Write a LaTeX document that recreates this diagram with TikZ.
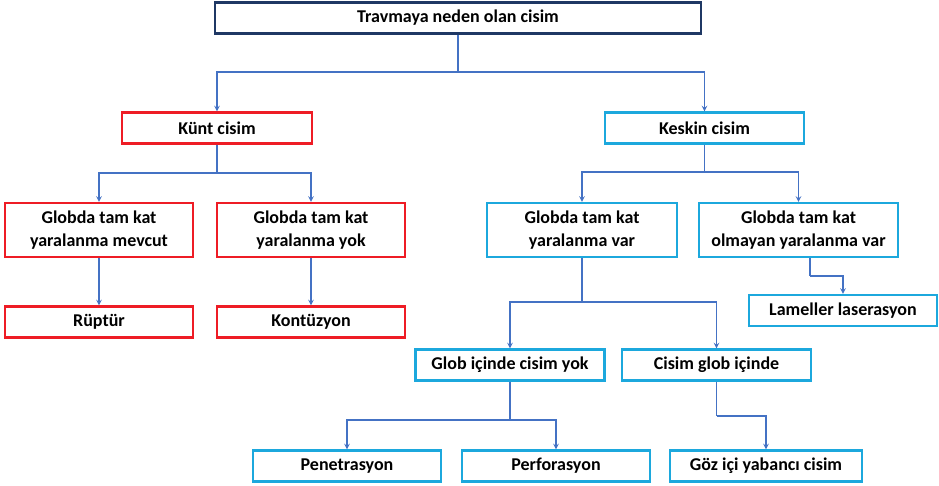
\documentclass[tikz,border=0pt]{standalone}
\usepackage{fontspec}
\setmainfont{Carlito}
\usepackage{tikz}
\definecolor{navy}{HTML}{1F3864}
\definecolor{kred}{HTML}{EE1C25}
\definecolor{kcyan}{HTML}{1CA8DD}
\definecolor{lineblue}{HTML}{4472C4}
\tikzset{
	box/.style={draw, line width=2.4pt, fill=white, inner sep=0pt, align=center,
		minimum height=31pt, minimum width=188pt,
		font=\bfseries\fontsize{18}{23}\selectfont},
	topbox/.style={box, draw=navy, minimum width=486pt},
	redbox/.style={box, draw=kred},
	cyanbox/.style={box, draw=kcyan},
	tall/.style={minimum height=54pt},
	wire/.style={draw=lineblue, line width=1.4pt},
	conn/.style={wire, -stealth}
}
\begin{document}
\begin{tikzpicture}[x=1pt, y=-1pt]
	\useasboundingbox (0,0) rectangle (939,486);
	% boxes
	\node[topbox] (top) at (458,18) {Travmaya neden olan cisim};
	\node[redbox, minimum width=190pt] (kunt) at (217,128) {Künt cisim};
	\node[cyanbox, minimum width=199pt] (keskin) at (704.5,128) {Keskin cisim};
	\node[redbox, tall] (mevcut) at (99,230) {Globda tam kat\\yaralanma mevcut};
	\node[redbox, tall] (yok) at (311,230) {Globda tam kat\\yaralanma yok};
	\node[cyanbox, tall, minimum width=190pt] (var) at (582,230) {Globda tam kat\\yaralanma var};
	\node[cyanbox, tall, minimum width=199pt] (olmayan) at (798.5,230) {Globda tam kat\\olmayan yaralanma var};
	\node[redbox] (ruptur) at (99,322) {Rüptür};
	\node[redbox] (kontuzyon) at (311,322) {Kontüzyon};
	\node[cyanbox] (lameller) at (843,310.5) {Lameller laserasyon};
	\node[cyanbox, minimum width=189pt] (globyok) at (510,365) {Glob içinde cisim yok};
	\node[cyanbox, minimum width=189pt] (cisimglob) at (716.5,365) {Cisim glob içinde};
	\node[cyanbox] (penetrasyon) at (347,466) {Penetrasyon};
	\node[cyanbox] (perforasyon) at (556,466) {Perforasyon};
	\node[cyanbox, minimum width=192pt] (goz) at (766,466) {Göz içi yabancı cisim};

	% junctions
	\coordinate (j0) at (458,72);
	\coordinate (j1) at (217,173);
	\coordinate (j2) at (704.5,172);
	\coordinate (j3) at (582,302);
	\coordinate (j4) at (810,276);
	\coordinate (j5) at (510,420);
	\coordinate (j6) at (716.5,416);

	% connectors
	\draw[wire] (top) -- (j0);
	\draw[conn] (j0) -| (kunt);
	\draw[conn] (j0) -| (keskin);
	\draw[wire] (kunt) -- (j1);
	\draw[conn] (j1) -| (mevcut);
	\draw[conn] (j1) -| (yok);
	\draw[wire] (keskin) -- (j2);
	\draw[conn] (j2) -| (var);
	\draw[conn] (j2) -| (olmayan);
	\draw[conn] (mevcut) -- (ruptur);
	\draw[conn] (yok) -- (kontuzyon);
	\draw[wire] (olmayan.south -| j4) -- (j4);
	\draw[conn] (j4) -| (lameller);
	\draw[wire] (var) -- (j3);
	\draw[conn] (j3) -| (globyok);
	\draw[conn] (j3) -| (cisimglob);
	\draw[wire] (globyok) -- (j5);
	\draw[conn] (j5) -| (penetrasyon);
	\draw[conn] (j5) -| (perforasyon);
	\draw[wire] (cisimglob) -- (j6);
	\draw[conn] (j6) -| (goz);
\end{tikzpicture}
\end{document}
